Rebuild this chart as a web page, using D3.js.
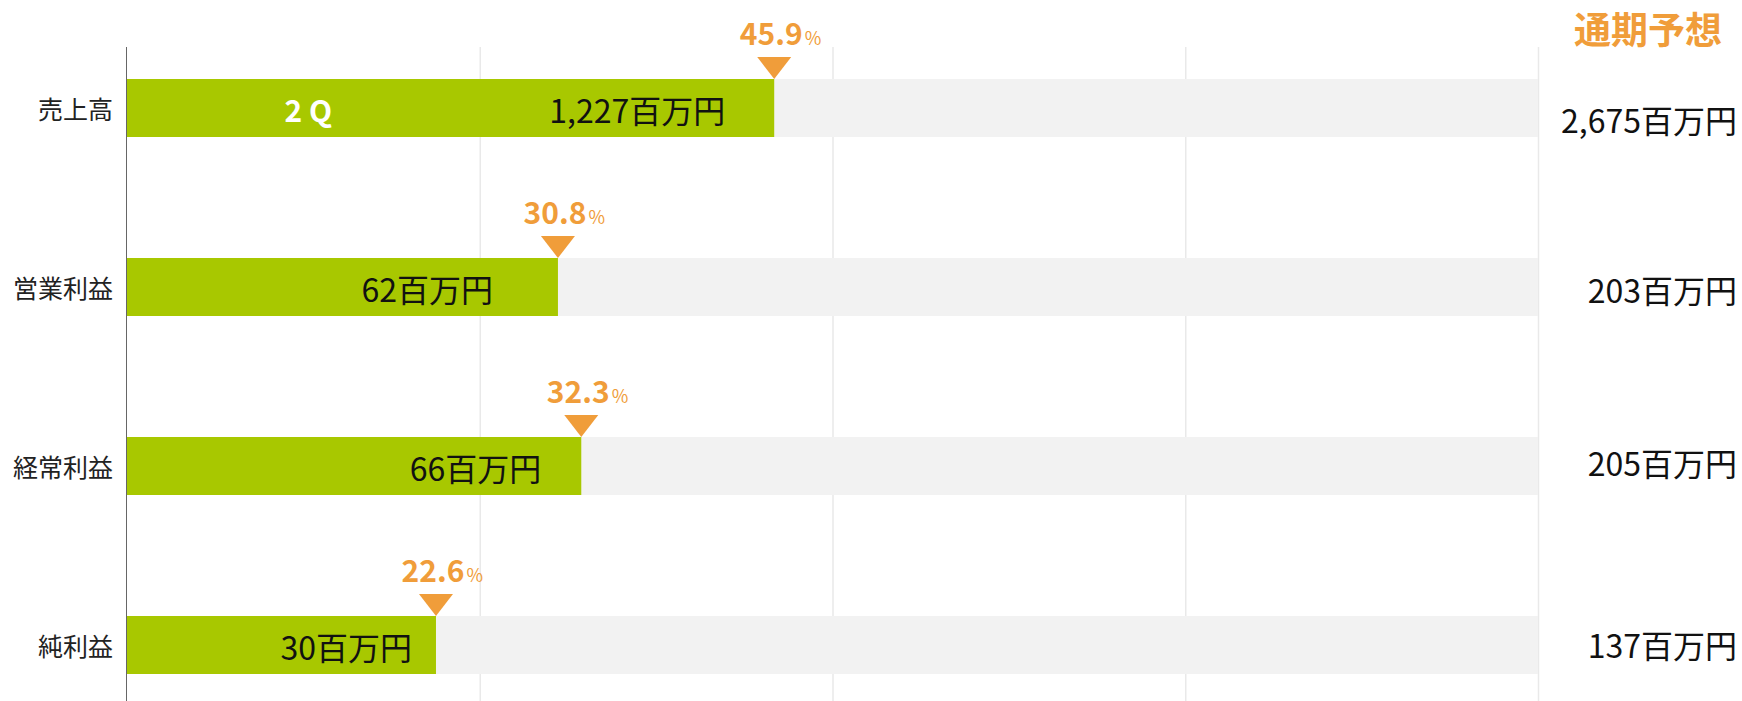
<!DOCTYPE html>
<html>
<head>
<meta charset="utf-8">
<script src="https://cdn.jsdelivr.net/npm/d3@7"></script>
<style>
  html, body { margin: 0; padding: 0; background: #fff; }
  svg { display: block; font-family: "Noto Sans CJK JP", "Noto Sans", sans-serif; }
</style>
</head>
<body>
<svg id="chart" width="1742" height="701"></svg>
<script>
// ---- data ----
const categories = ["売上高", "営業利益", "経常利益", "純利益"];
const actualValues = [1227, 62, 66, 30];          // 2Q 実績 (百万円)
const forecastValues = [2675, 203, 205, 137];     // 通期予想 (百万円)
const progressLabels = ["45.9", "30.8", "32.3", "22.6"]; // 進捗率 (%)
const unit = "百万円";
const gridTicks = [0, 0.25, 0.5, 0.75, 1];
const barTag = "2Q";
const forecastTitle = "通期予想";

// ---- layout (not data) ----
const valueLabelInset = [49, 65, 40, 24];
const W = 1742, H = 701;
const green = "#a8c800", orange = "#f09d3a", track = "#f2f2f2";

const svg = d3.select("#chart");

const x = d3.scaleLinear().domain([0, 1]).range([127, 1538]);
const y = d3.scalePoint().domain(categories).range([108, 645]);
const barH = 58;

// gridlines
svg.append("g").selectAll("line")
  .data(gridTicks.slice(1))
  .join("line")
  .attr("x1", d => x(d) + 0.5).attr("x2", d => x(d) + 0.5)
  .attr("y1", 47).attr("y2", H)
  .attr("stroke", "#e9e9e9").attr("stroke-width", 1.5);

// background tracks
svg.append("g").selectAll("rect")
  .data(categories)
  .join("rect")
  .attr("x", x(0)).attr("width", x(1) - x(0))
  .attr("y", d => y(d) - barH / 2).attr("height", barH)
  .attr("fill", track);

// green bars
svg.append("g").selectAll("rect")
  .data(categories)
  .join("rect")
  .attr("x", x(0))
  .attr("width", (d, i) => x(actualValues[i] / forecastValues[i]) - x(0))
  .attr("y", d => y(d) - barH / 2).attr("height", barH)
  .attr("fill", green);

// axis line
svg.append("line")
  .attr("x1", x(0) - 0.5).attr("x2", x(0) - 0.5)
  .attr("y1", 47).attr("y2", H)
  .attr("stroke", "#666").attr("stroke-width", 1);

// category labels
svg.append("g").selectAll("text")
  .data(categories)
  .join("text")
  .attr("x", 113).attr("y", d => y(d))
  .attr("text-anchor", "end").attr("dominant-baseline", "central")
  .attr("font-size", 25).attr("fill", "#222")
  .text(d => d);

// value labels inside bars
svg.append("g").selectAll("text")
  .data(categories)
  .join("text")
  .attr("x", (d, i) => x(actualValues[i] / forecastValues[i]) - valueLabelInset[i])
  .attr("y", d => y(d) + 1)
  .attr("text-anchor", "end").attr("dominant-baseline", "central")
  .attr("font-size", 32).attr("fill", "#111")
  .text((d, i) => d3.format(",")(actualValues[i]) + unit);

// 2Q tag
svg.append("text")
  .attr("x", x(0.131)).attr("y", y(categories[0]) + 1)
  .attr("text-anchor", "middle").attr("dominant-baseline", "central")
  .attr("font-size", 30).attr("font-weight", "bold").attr("fill", "#fff")
  .attr("letter-spacing", 7)
  .text(barTag);

// triangles + percentage labels
const markers = svg.append("g");
categories.forEach((c, i) => {
  const tx = x(actualValues[i] / forecastValues[i]);
  const top = y(c) - barH / 2;
  markers.append("path")
    .attr("d", `M${tx - 17},${top - 22} L${tx + 17},${top - 22} L${tx},${top} Z`)
    .attr("fill", orange);
  const num = markers.append("text")
    .attr("x", tx - 3).attr("y", top - 34)
    .attr("text-anchor", "middle")
    .attr("font-size", 30).attr("font-weight", "bold").attr("fill", orange)
    .text(progressLabels[i]);
  const bb = num.node().getBBox();
  markers.append("text")
    .attr("x", bb.x + bb.width + 2).attr("y", top - 34)
    .attr("font-size", 18).attr("fill", orange)
    .text("%");
});

// forecast title
svg.append("text")
  .attr("x", 1722).attr("y", 28)
  .attr("text-anchor", "end").attr("dominant-baseline", "central")
  .attr("font-size", 37).attr("font-weight", "bold").attr("fill", orange)
  .text(forecastTitle);

// forecast values
const forecastDy = [11, 2, -4, -1];
svg.append("g").selectAll("text")
  .data(categories)
  .join("text")
  .attr("x", 1737).attr("y", (d, i) => y(d) + forecastDy[i])
  .attr("text-anchor", "end").attr("dominant-baseline", "central")
  .attr("font-size", 32).attr("fill", "#111")
  .text((d, i) => d3.format(",")(forecastValues[i]) + unit);
</script>
</body>
</html>
